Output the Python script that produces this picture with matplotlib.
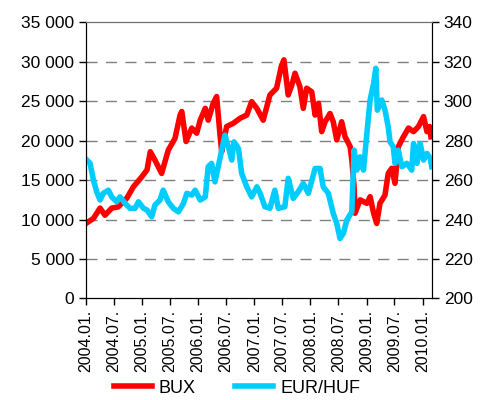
import pandas as pd
import matplotlib.pyplot as plt
import matplotlib.dates as mdates
from matplotlib.ticker import FuncFormatter

plt.rcParams['font.family'] = ['Liberation Sans', 'DejaVu Sans']

# BUX index (left axis)
bux_dates = ['2004-01-01', '2004-02-19', '2004-04-02', '2004-05-04', '2004-06-17',
             '2004-07-29', '2004-09-23', '2004-11-05', '2004-12-29', '2005-02-02',
             '2005-02-23', '2005-03-25', '2005-05-08', '2005-06-20', '2005-08-03',
             '2005-09-05', '2005-09-16', '2005-10-14', '2005-11-20', '2005-12-22',
             '2006-01-14', '2006-02-16', '2006-03-07', '2006-04-09', '2006-05-01',
             '2006-05-22', '2006-06-03', '2006-07-05', '2006-08-17', '2006-10-01',
             '2006-11-13', '2006-12-15', '2007-01-18', '2007-02-28', '2007-04-13',
             '2007-05-26', '2007-06-27', '2007-07-13', '2007-08-10', '2007-09-02',
             '2007-09-23', '2007-10-25', '2007-11-16', '2007-12-08', '2008-01-10',
             '2008-02-01', '2008-02-23', '2008-03-15', '2008-04-06', '2008-05-08',
             '2008-05-29', '2008-06-21', '2008-07-23', '2008-08-14', '2008-09-16',
             '2008-09-27', '2008-10-12', '2008-10-18', '2008-11-20', '2009-01-03',
             '2009-01-24', '2009-02-16', '2009-03-08', '2009-03-29', '2009-05-01',
             '2009-05-22', '2009-06-14', '2009-07-05', '2009-07-27', '2009-08-29',
             '2009-10-01', '2009-11-03', '2009-12-05', '2010-01-07', '2010-01-29',
             '2010-02-15', '2010-02-24']
bux = [9500, 10150, 11450, 10550, 11450,
       11600, 12700, 14150, 15400, 16300,
       18600, 17550, 15850, 18800, 20300,
       23250, 23700, 19900, 21600, 20950,
       22600, 24100, 22600, 24750, 25600,
       20950, 18600, 21800, 22200, 22850,
       23250, 24950, 24100, 22600, 25800,
       26650, 29500, 30250, 25800, 27050,
       28550, 26850, 24100, 26650, 26200,
       23250, 24750, 21150, 22400, 23450,
       22400, 20100, 22400, 20500, 19250,
       17550, 14150, 10800, 12500, 12050,
       12900, 10800, 9500, 12050, 13100,
       15850, 16500, 14600, 19250, 20500,
       21600, 21150, 21800, 23050, 21150,
       21800, 20500]

# EUR/HUF exchange rate (right axis)
huf_dates = ['2004-01-07', '2004-01-28', '2004-02-19', '2004-03-11', '2004-04-02',
             '2004-04-23', '2004-05-26', '2004-06-17', '2004-07-19', '2004-08-10',
             '2004-09-12', '2004-10-14', '2004-11-16', '2004-12-08', '2005-01-10',
             '2005-02-02', '2005-03-04', '2005-03-25', '2005-04-27', '2005-05-18',
             '2005-06-20', '2005-07-23', '2005-08-25', '2005-09-27', '2005-10-19',
             '2005-11-20', '2005-12-12', '2006-01-14', '2006-02-16', '2006-03-07',
             '2006-03-29', '2006-04-20', '2006-05-11', '2006-06-03', '2006-06-24',
             '2006-07-16', '2006-08-07', '2006-08-22', '2006-09-20', '2006-10-11',
             '2006-11-13', '2006-12-15', '2007-01-18', '2007-02-08', '2007-03-11',
             '2007-04-13', '2007-05-15', '2007-06-06', '2007-07-19', '2007-08-10',
             '2007-09-12', '2007-10-14', '2007-11-16', '2007-12-19', '2008-02-01',
             '2008-03-04', '2008-03-25', '2008-04-27', '2008-05-29', '2008-06-21',
             '2008-07-12', '2008-08-03', '2008-08-25', '2008-09-27', '2008-10-12',
             '2008-10-30', '2008-11-20', '2008-12-12', '2009-01-03', '2009-01-24',
             '2009-02-16', '2009-03-02', '2009-03-12', '2009-04-10', '2009-05-01',
             '2009-05-22', '2009-06-03', '2009-06-24', '2009-07-05', '2009-07-27',
             '2009-08-18', '2009-09-20', '2009-10-22', '2009-11-03', '2009-11-25',
             '2009-12-16', '2010-01-07', '2010-01-29', '2010-02-20', '2010-03-01']
eurhuf = [270.2, 268.5, 260.0, 254.1, 249.9,
          253.3, 254.9, 251.5, 249.0, 251.5,
          248.2, 245.7, 245.7, 249.0, 245.7,
          244.8, 241.4, 247.3, 249.9, 254.9,
          249.0, 245.7, 243.9, 248.2, 253.3,
          252.4, 254.9, 249.9, 251.5, 266.8,
          268.5, 259.1, 266.8, 275.2, 282.8,
          276.9, 270.2, 279.4, 276.1, 263.4,
          256.6, 251.5, 256.6, 253.3, 246.5,
          245.7, 254.9, 245.7, 246.5, 260.9,
          250.7, 254.1, 258.3, 253.3, 265.9,
          265.9, 256.6, 253.3, 243.1, 238.0,
          230.4, 233.0, 239.7, 243.9, 275.2,
          265.1, 271.8, 265.1, 283.7, 300.6,
          309.1, 316.7, 295.5, 300.6, 295.5,
          287.0, 279.4, 276.9, 268.5, 275.2,
          266.8, 268.5, 265.1, 278.6, 268.5,
          278.6, 270.2, 273.5, 271.0, 266.8]

tick_dates = pd.date_range('2004-01-01', '2010-01-01', freq='6MS')

fig = plt.figure(figsize=(4.8, 4.0), dpi=100)
ax = fig.add_axes([0.179, 0.254, 0.721, 0.69])
ax2 = ax.twinx()

ax.plot(pd.to_datetime(bux_dates), bux, color='#ff0000', lw=4, label='BUX')
ax2.plot(pd.to_datetime(huf_dates), eurhuf, color='#00ccff', lw=4, label='EUR/HUF')

ax.set_ylim(0, 35000)
ax.set_yticks(range(0, 35001, 5000))
ax.yaxis.set_major_formatter(FuncFormatter(lambda v, p: f'{int(v):,}'.replace(',', ' ')))
ax2.set_ylim(200, 340)
ax2.set_yticks(range(200, 341, 20))

ax.set_xlim(pd.Timestamp('2004-01-01'), pd.Timestamp('2010-03-03'))
ax.set_xticks(tick_dates)
ax.xaxis.set_major_formatter(mdates.DateFormatter('%Y.%m.'))
plt.setp(ax.get_xticklabels(), rotation=90)

for y in range(5000, 35000, 5000):
    ax.axhline(y, color='#808080', lw=1, ls=(0, (8, 6)), zorder=0)

for a in (ax, ax2):
    a.tick_params(direction='out', length=5, width=1, labelsize=12.5, colors='black')
    a.spines['top'].set_color('#707070')
ax.tick_params(axis='x', labelsize=11.5, pad=3)

h1, l1 = ax.get_legend_handles_labels()
h2, l2 = ax2.get_legend_handles_labels()
fig.legend(h1 + h2, l1 + l2, loc='lower center', bbox_to_anchor=(0.494, -0.032), ncol=2,
           frameon=False, fontsize=13, handlelength=2.1, columnspacing=2.2, handletextpad=0.4)

fig.savefig('out.png', dpi=100)
